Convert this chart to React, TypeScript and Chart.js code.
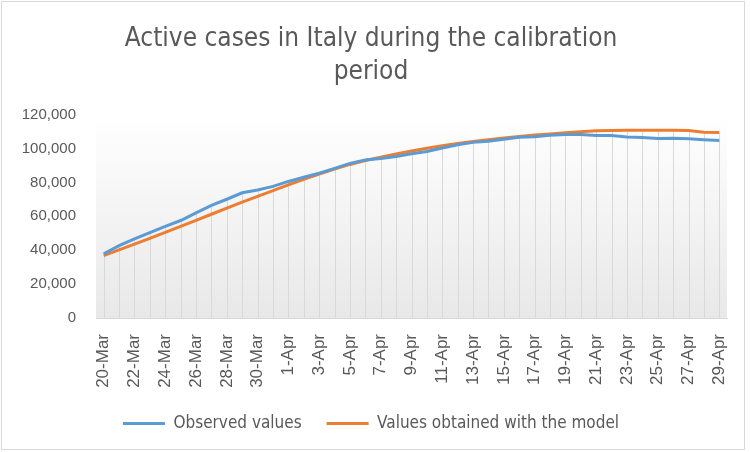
import React, { useEffect, useRef } from "react";
import { Chart, registerables } from "chart.js";

Chart.register(...registerables);

const categories: string[] = [
  "20-Mar", "21-Mar", "22-Mar", "23-Mar", "24-Mar", "25-Mar", "26-Mar", "27-Mar", "28-Mar", "29-Mar",
  "30-Mar", "31-Mar", "1-Apr", "2-Apr", "3-Apr", "4-Apr", "5-Apr", "6-Apr", "7-Apr", "8-Apr",
  "9-Apr", "10-Apr", "11-Apr", "12-Apr", "13-Apr", "14-Apr", "15-Apr", "16-Apr", "17-Apr", "18-Apr",
  "19-Apr", "20-Apr", "21-Apr", "22-Apr", "23-Apr", "24-Apr", "25-Apr", "26-Apr", "27-Apr", "28-Apr",
  "29-Apr",
];

const observedValues: number[] = [
  37860, 42681, 46638, 50418, 54030, 57521, 62013, 66414, 70065, 73880,
  75528, 77635, 80572, 83049, 85388, 88274, 91246, 93187, 94067, 95262,
  96877, 98273, 100269, 102253, 103616, 104291, 105418, 106607, 106962, 107771,
  108257, 108237, 107709, 107699, 106848, 106527, 105847, 106103, 105813, 105205,
  104657,
];

const modelValues: number[] = [
  36800, 40200, 43600, 47000, 50500, 54000, 57600, 61200, 64800, 68400,
  71800, 75200, 78500, 81800, 84900, 87800, 90600, 92900, 94900, 96800,
  98500, 100100, 101600, 102900, 104100, 105200, 106200, 107100, 107900, 108600,
  109300, 109900, 110400, 110600, 110700, 110700, 110700, 110700, 110600, 109600,
  109500,
];

const seriesNames: string[] = ["Observed values", "Values obtained with the model"];
const titleLines: string[] = ["Active cases in Italy during the calibration", "period"];
const yTicks: number[] = [0, 20000, 40000, 60000, 80000, 100000, 120000];

const BLUE = "#5b9bd5";
const ORANGE = "#ed7d31";
const TEXT = "#595959";
const NARROW = '"Liberation Sans Narrow", "DejaVu Sans Condensed", "Liberation Sans", sans-serif';
const SANS = '"Liberation Sans", Arial, sans-serif';

const framePlugin = {
  id: "frameAndDrops",
  beforeDraw(chart: any) {
    const { ctx, width, height } = chart;
    ctx.save();
    ctx.fillStyle = "#ffffff";
    ctx.fillRect(0, 0, width, height);
    ctx.strokeStyle = "#d9d9d9";
    ctx.lineWidth = 1;
    ctx.strokeRect(1.5, 1.5, width - 7, height - 4);
    ctx.restore();
  },
  beforeDatasetsDraw(chart: any) {
    const { ctx, chartArea, scales } = chart;
    const xs = scales.x;
    const ys = scales.y;
    ctx.save();
    const g = ctx.createLinearGradient(0, chartArea.top, 0, chartArea.bottom);
    g.addColorStop(0, "rgba(255,255,255,1)");
    g.addColorStop(1, "rgba(232,232,232,1)");
    ctx.fillStyle = g;
    ctx.fillRect(chartArea.left, chartArea.top, chartArea.right - chartArea.left, chartArea.bottom - chartArea.top);
    ctx.strokeStyle = "#d9d9d9";
    ctx.lineWidth = 1;
    for (let i = 0; i < categories.length; i++) {
      const top = Math.max(observedValues[i], modelValues[i]);
      const x = Math.round(xs.getPixelForValue(i)) + 0.5;
      ctx.beginPath();
      ctx.moveTo(x, ys.getPixelForValue(top));
      ctx.lineTo(x, chartArea.bottom);
      ctx.stroke();
    }
    ctx.restore();
  },
};

export default function App() {
  const ref = useRef<HTMLCanvasElement | null>(null);
  useEffect(() => {
    if (!ref.current) return;
    const chart = new Chart(ref.current, {
      type: "line",
      data: {
        labels: categories,
        datasets: [
          {
            label: seriesNames[0],
            data: observedValues,
            borderColor: BLUE,
            backgroundColor: BLUE,
            borderWidth: 3,
            pointRadius: 0,
            tension: 0,
          },
          {
            label: seriesNames[1],
            data: modelValues,
            borderColor: ORANGE,
            backgroundColor: ORANGE,
            borderWidth: 3,
            pointRadius: 0,
            tension: 0,
          },
        ],
      },
      plugins: [framePlugin],
      options: {
        animation: false,
        responsive: false,
        devicePixelRatio: 1,
        layout: { padding: { left: 15, right: 23, top: 0, bottom: 10 } },
        plugins: {
          tooltip: { enabled: false },
          title: {
            display: true,
            text: titleLines,
            color: TEXT,
            font: { family: NARROW, size: 26, weight: "normal", lineHeight: 1.3 },
            padding: { top: 22, bottom: 25 },
          },
          legend: {
            position: "bottom",
            labels: {
              color: TEXT,
              font: { family: NARROW, size: 17 },
              boxWidth: 42,
              boxHeight: 3,
              padding: 25,
              generateLabels: (c: any) =>
                c.data.datasets.map((d: any, i: number) => ({
                  text: d.label,
                  fillStyle: d.borderColor,
                  strokeStyle: d.borderColor,
                  lineWidth: 0,
                  fontColor: TEXT,
                  datasetIndex: i,
                  hidden: false,
                })),
            },
          },
        },
        scales: {
          x: {
            offset: true,
            grid: { display: false, drawTicks: false },
            border: { display: true, color: "#d9d9d9", width: 1 },
            afterFit: (scale: any) => {
              scale.height = 72;
              scale.paddingLeft = 0;
              scale.paddingRight = 0;
            },
            ticks: {
              autoSkip: false,
              maxRotation: 90,
              minRotation: 90,
              color: TEXT,
              font: { family: SANS, size: 17 },
              padding: 16,
              callback: (_v: any, i: number) => (i % 2 === 0 ? categories[i] : ""),
            },
          },
          y: {
            min: yTicks[0],
            max: yTicks[yTicks.length - 1],
            afterBuildTicks: (axis: any) => {
              axis.ticks = yTicks.map((v) => ({ value: v }));
            },
            afterFit: (scale: any) => {
              scale.width = 81;
            },
            grid: { display: false, drawTicks: false },
            border: { display: false },
            ticks: {
              color: TEXT,
              font: { family: SANS, size: 15 },
              padding: 20,
              callback: (v: any) => Number(v).toLocaleString("en-US"),
            },
          },
        },
      },
    });
    return () => chart.destroy();
  }, []);
  return (
    <div style={{ position: "fixed", left: 0, top: 0, width: 750, height: 452, background: "#fff" }}>
      <canvas ref={ref} width={750} height={452} />
    </div>
  );
}
